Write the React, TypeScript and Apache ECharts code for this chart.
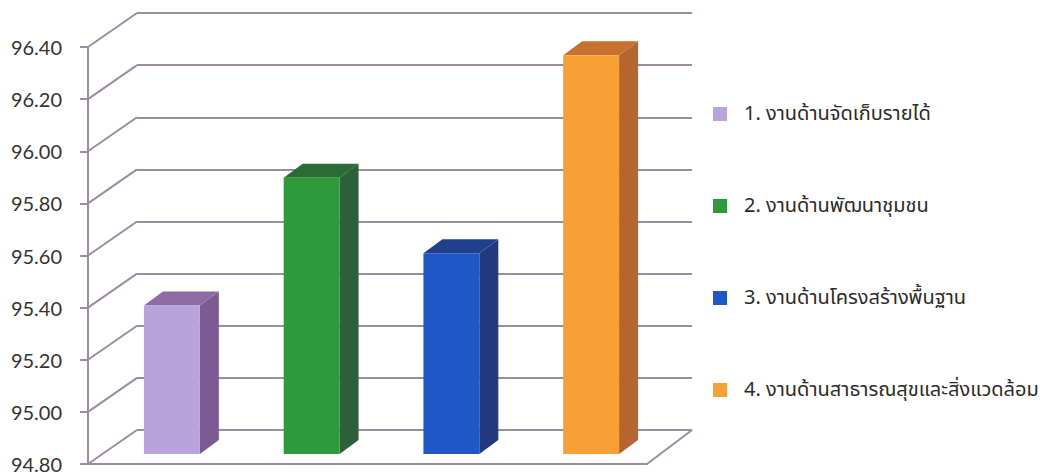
import React, { useEffect, useRef } from "react";
import * as echarts from "echarts";

const categories = [
  "1. งานด้านจัดเก็บรายได้",
  "2. งานด้านพัฒนาชุมชน",
  "3. งานด้านโครงสร้างพื้นฐาน",
  "4. งานด้านสาธารณสุขและสิ่งแวดล้อม",
];
const values = [95.37, 95.86, 95.57, 96.33];
const yTicks = [94.8, 95.0, 95.2, 95.4, 95.6, 95.8, 96.0, 96.2, 96.4];
const frontColors = ["#B9A3DB", "#2F9A3C", "#1F57C7", "#F7A036"];
const sideColors = ["#7C5B94", "#2C5F3A", "#23397F", "#B5652F"];
const topColors = ["#8D6CA4", "#2B6B36", "#21408C", "#C8712E"];

const Y_MIN = 94.8;
const Y_MAX = 96.4;
const LINE = "#9C8CA0";

export default function App() {
  const ref = useRef<HTMLDivElement>(null);
  useEffect(() => {
    if (!ref.current) return;
    const chart = echarts.init(ref.current, null, { renderer: "svg" });

    const yBase = { type: "value", min: Y_MIN, max: Y_MAX, interval: 0.2 };

    const barSeries = categories.map((name, i) => ({
      type: "custom",
      name,
      xAxisIndex: 2,
      yAxisIndex: 2,
      z: 5,
      itemStyle: { color: frontColors[i] },
      data: [[i, values[i]]],
      renderItem: (params: any, api: any) => {
        const cat = api.value(0);
        const val = api.value(1);
        const top = api.coord([cat, val]);
        const base = api.coord([cat, Y_MIN]);
        const band = api.size([1, 0])[0];
        const w = band * 0.4;
        const x0 = top[0] - w / 2;
        const x1 = top[0] + w / 2;
        const dx = 19;
        const dy = -14;
        return {
          type: "group",
          children: [
            {
              type: "polygon",
              shape: { points: [[x1, top[1]], [x1 + dx, top[1] + dy], [x1 + dx, base[1] + dy], [x1, base[1]]] },
              style: { fill: sideColors[i] },
            },
            {
              type: "polygon",
              shape: { points: [[x0, top[1]], [x0 + dx, top[1] + dy], [x1 + dx, top[1] + dy], [x1, top[1]]] },
              style: { fill: topColors[i] },
            },
            {
              type: "rect",
              shape: { x: x0, y: top[1], width: w, height: base[1] - top[1] },
              style: { fill: frontColors[i] },
            },
          ],
        };
      },
    }));

    const frameSeries = {
      type: "custom",
      xAxisIndex: 0,
      yAxisIndex: 0,
      silent: true,
      z: 1,
      data: yTicks.map((v) => [0, v]),
      renderItem: (params: any, api: any) => {
        const v = api.value(1);
        const y = api.coord([0, v])[1];
        const cs = params.coordSys;
        const children: any[] = [
          {
            type: "line",
            shape: { x1: cs.x, y1: y, x2: cs.x + 49, y2: y - 34 },
            style: { stroke: LINE, lineWidth: 2 },
          },
        ];
        if (params.dataIndex === 0) {
          const xr = cs.x + cs.width;
          children.push({
            type: "line",
            shape: { x1: xr, y1: y, x2: xr + 45, y2: y - 34 },
            style: { stroke: LINE, lineWidth: 2 },
          });
        }
        return { type: "group", children };
      },
    };

    chart.setOption({
      animation: false,
      backgroundColor: "#FFFFFF",
      grid: [
        { left: 88, top: 47, width: 559, height: 417, containLabel: false },
        { left: 137, top: 13, width: 555, height: 417, containLabel: false },
        { left: 102, top: 37, width: 559, height: 417, containLabel: false },
      ],
      xAxis: [
        {
          type: "category",
          gridIndex: 0,
          data: categories,
          axisLine: { show: true, lineStyle: { color: LINE, width: 2 } },
          axisTick: { show: false },
          axisLabel: { show: false },
        },
        { type: "category", gridIndex: 1, data: categories, show: false },
        { type: "category", gridIndex: 2, data: categories, show: false },
      ],
      yAxis: [
        {
          ...yBase,
          gridIndex: 0,
          axisLine: { show: true, lineStyle: { color: LINE, width: 2 } },
          axisTick: { show: true, length: 8, lineStyle: { color: LINE, width: 2 } },
          splitLine: { show: false },
          axisLabel: {
            margin: 26,
            fontSize: 20,
            fontFamily: "Lato, Roboto, sans-serif",
            color: "#333333",
            formatter: (v: number) => v.toFixed(2),
          },
        },
        {
          ...yBase,
          gridIndex: 1,
          axisLine: { show: false },
          axisTick: { show: false },
          axisLabel: { show: false },
          splitLine: { show: true, lineStyle: { color: LINE, width: 2 } },
        },
        { ...yBase, gridIndex: 2, show: false, splitLine: { show: false } },
      ],
      legend: {
        orient: "vertical",
        left: 708,
        top: 97,
        icon: "rect",
        itemWidth: 14,
        itemHeight: 14,
        itemGap: 68,
        data: categories,
        textStyle: {
          fontSize: 20,
          lineHeight: 24,
          color: "#2b2b2b",
          fontFamily: "'Noto Sans Thai', Tahoma, 'Noto Sans', sans-serif",
          padding: [0, 0, 0, 12],
        },
      },
      series: [frameSeries, ...barSeries],
    });
    return () => chart.dispose();
  }, []);
  return (
    <div
      ref={ref}
      style={{ position: "fixed", left: 0, top: 0, width: 1052, height: 476 }}
    />
  );
}
